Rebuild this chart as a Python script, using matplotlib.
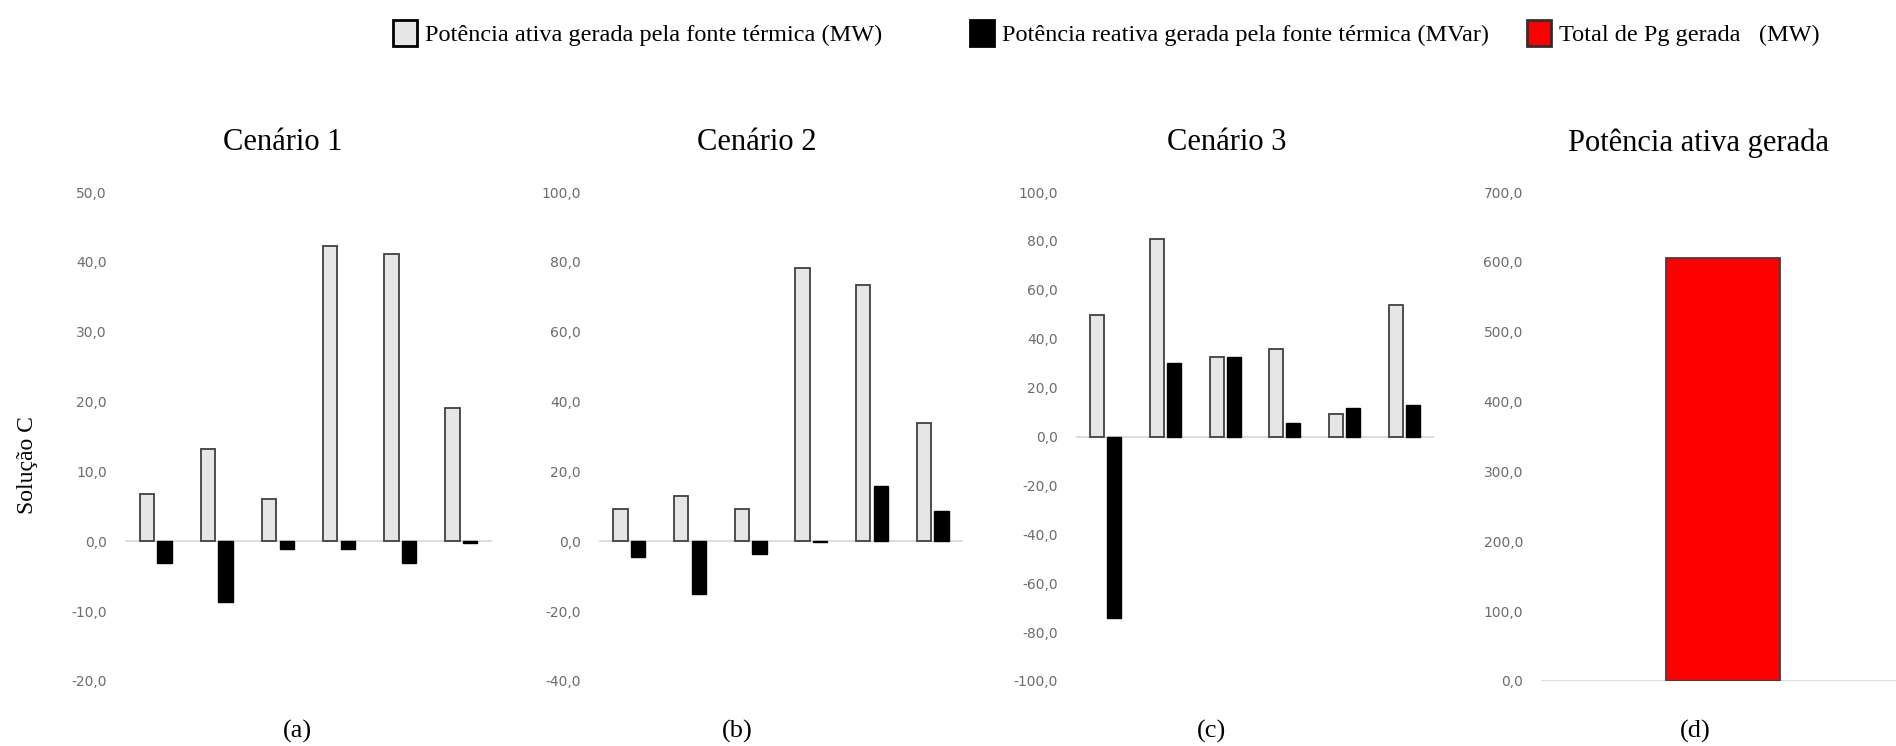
import numpy as np
import matplotlib
matplotlib.use('Agg')
import matplotlib.pyplot as plt
from matplotlib.ticker import FuncFormatter, MultipleLocator
from matplotlib.patches import Patch

# dados (6 geradores por cenario)
geradores = np.arange(6)
pg_c1 = [6.7, 13.2, 6.1, 42.3, 41.1, 19.1]
qg_c1 = [-3.1, -8.7, -1.1, -1.1, -3.1, -0.2]
pg_c2 = [9.3, 13.0, 9.3, 78.2, 73.5, 34.0]
qg_c2 = [-4.4, -15.2, -3.7, -0.3, 15.7, 8.7]
pg_c3 = [49.6, 80.6, 32.7, 35.9, 9.0, 53.8]
qg_c3 = [-74.1, 30.2, 32.7, 5.4, 11.7, 12.9]
pg_total = [605.0]

titulos = ['Cenário 1', 'Cenário 2', 'Cenário 3', 'Potência ativa gerada']
letras = ['(a)', '(b)', '(c)', '(d)']
leg_txt = ['Potência ativa gerada pela fonte térmica (MW)',
           'Potência reativa gerada pela fonte térmica (MVar)',
           'Total de Pg gerada   (MW)']

W, H = 1896, 746
fig = plt.figure(figsize=(W/100, H/100), dpi=100)
serif = 'Liberation Serif'
cinza = '#e6e6e6'
borda = '#404040'

def px(x0, y_top, x1, y_bot):
    return [x0/W, 1 - y_bot/H, (x1-x0)/W, (y_bot-y_top)/H]

fmt = FuncFormatter(lambda v, p: f'{v:.1f}'.replace('.', ','))

def estilo(ax, ylim, passo):
    ax.set_ylim(*ylim)
    ax.yaxis.set_major_locator(MultipleLocator(passo))
    ax.yaxis.set_major_formatter(fmt)
    ax.tick_params(axis='y', length=0, pad=13, labelsize=10, labelcolor='#6b6b6b')
    ax.set_xticks([])
    for s in ax.spines.values():
        s.set_visible(False)
    ax.axhline(0, color='#d9d9d9', lw=1.3, zorder=0)

w = 0.235
desl = 0.145
paineis = [
    (pg_c1, qg_c1, (125, 492), (-20, 50), 10),
    (pg_c2, qg_c2, (599, 963), (-40, 100), 20),
    (pg_c3, qg_c3, (1076, 1434), (-100, 100), 20),
]
for pg, qg, (x0, x1), lim, passo in paineis:
    ax = fig.add_axes(px(x0, 192, x1, 681))
    ax.bar(geradores - desl, pg, w, color=cinza, edgecolor=borda, lw=1.3)
    ax.bar(geradores + desl, qg, w, color='black', edgecolor='black', lw=1)
    ax.set_xlim(-0.5, 5.5)
    estilo(ax, lim, passo)

axd = fig.add_axes(px(1541, 192, 1896, 681))
axd.bar([0], pg_total, 0.313, color='#ff0000', edgecolor=borda, lw=1.3)
axd.set_xlim(-0.5, 0.475)
estilo(axd, (0, 700), 100)

# titulos e letras
for x, t in zip([283, 757, 1227, 1698], titulos):
    fig.text(x/W, 1 - 143/H, t, ha='center', va='center', family=serif, fontsize=22)
for x, t in zip([297, 737, 1212, 1695], letras):
    fig.text(x/W, 1 - 731/H, t, ha='center', va='center', family=serif, fontsize=19)
fig.text(27/W, 1 - 465/H, 'Solução C', rotation=90, ha='center', va='center',
         family=serif, fontsize=17)

# legendas separadas (espacamento desigual no original)
handles = [Patch(facecolor=cinza, edgecolor='black', lw=2),
           Patch(facecolor='black', edgecolor='black', lw=2),
           Patch(facecolor='#ff0000', edgecolor='#303030', lw=2)]
for hdl, txt, x in zip(handles, leg_txt, [393, 970, 1527]):
    fig.legend([hdl], [txt], loc='center left', bbox_to_anchor=(x/W, 1 - 33/H),
               frameon=False, borderpad=0, borderaxespad=0, handlelength=1.0,
               handleheight=1.3, handletextpad=0.3, prop={'family': serif, 'size': 17.5})

fig.savefig('out.png', dpi=100)
